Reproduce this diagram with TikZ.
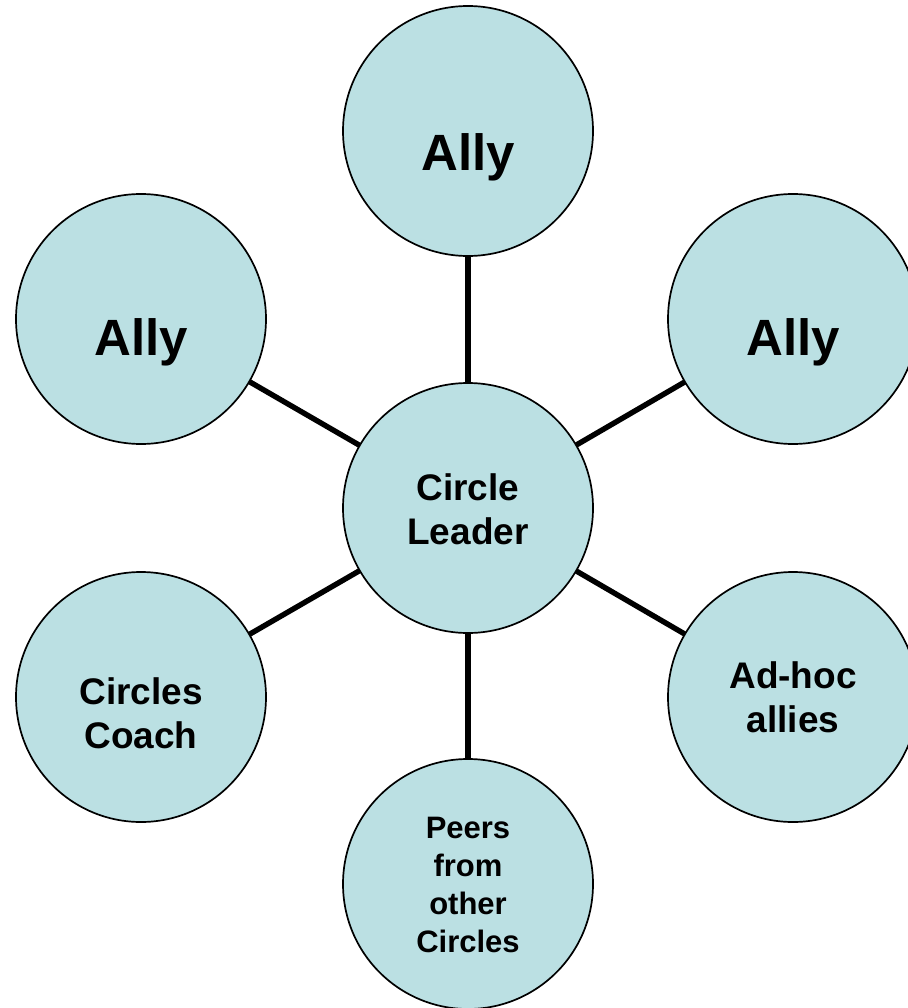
\documentclass[tikz,border=0pt]{standalone}
\usepackage{fontspec}
\setmainfont{Liberation Sans}
\definecolor{bubble}{RGB}{187,224,227}
\begin{document}
\begin{tikzpicture}[x=1pt,y=-1pt,
  bubblenode/.style={circle,draw=black,line width=1.7pt,fill=bubble,
    minimum size=250pt,inner sep=0pt},
  linkline/.style={line width=5.4pt,black},
  bigtext/.style={font=\fontsize{51}{58}\selectfont\bfseries,align=center},
  midtext/.style={font=\fontsize{37}{44}\selectfont\bfseries,align=center},
  smalltext/.style={font=\fontsize{31}{38}\selectfont\bfseries,align=center}]
\useasboundingbox (0,0) rectangle (907,1008);

% spokes (drawn first, hidden under the circles)
\coordinate (cC) at (468,508);
\coordinate (cT) at (468,131);
\coordinate (cL) at (141,319);
\coordinate (cR) at (793,319);
\coordinate (cCo) at (141,697);
\coordinate (cA) at (793,697);
\coordinate (cP) at (468,884);

\foreach \p in {cT,cL,cR,cCo,cA,cP}
  \draw[linkline] (cC) -- (\p);

% circles
\node[bubblenode] (leader) at (cC) {};
\node[bubblenode] (allyT) at (cT) {};
\node[bubblenode] (allyL) at (cL) {};
\node[bubblenode] (allyR) at (cR) {};
\node[bubblenode] (coach) at (cCo) {};
\node[bubblenode] (adhoc) at (cA) {};
\node[bubblenode] (peers) at (cP) {};

% labels
\node[bigtext] (tT) at (468,157) {Ally};
\node[bigtext] (tL) at (141,342) {Ally};
\node[bigtext] (tR) at (793,342) {Ally};
\node[midtext] (tC) at (468,509) {Circle\\Leader};
\node[midtext] (tCo) at (141,713) {Circles\\Coach};
\node[midtext] (tA) at (793,697) {Ad-hoc\\allies};
\node[smalltext] (tP) at (468,885) {Peers\\from\\other\\Circles};
\end{tikzpicture}
\end{document}
